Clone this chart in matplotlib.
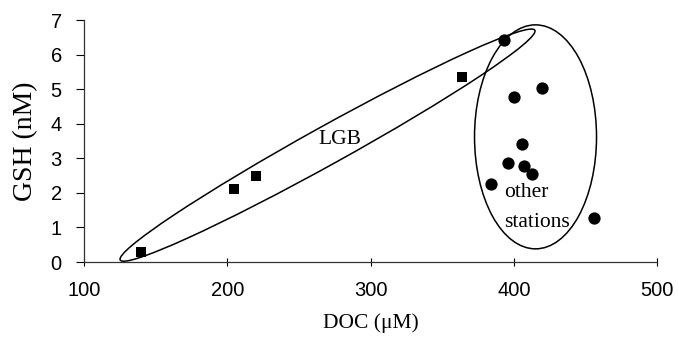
import matplotlib
matplotlib.use("Agg")
import matplotlib.pyplot as plt
from matplotlib.patches import Ellipse
from matplotlib.transforms import ScaledTranslation

# Data
lgb_doc = [140, 205, 220, 364]
lgb_gsh = [0.28, 2.10, 2.49, 5.34]
oth_doc = [393, 419.5, 400, 405.5, 396, 407, 412.5, 384, 456]
oth_gsh = [6.42, 5.03, 4.78, 3.41, 2.85, 2.79, 2.54, 2.25, 1.28]
x_ticks = [100, 200, 300, 400, 500]
y_ticks = [0, 1, 2, 3, 4, 5, 6, 7]

sans = "Liberation Sans"
serif = "Liberation Serif"

fig = plt.figure(figsize=(6.78, 3.45), dpi=100)
ax = fig.add_axes([84/678, 83/345, (657-84)/678, (262-20)/345])

ax.scatter(lgb_doc, lgb_gsh, marker="s", s=42, color="black", zorder=3, linewidths=0)
ax.scatter(oth_doc, oth_gsh, marker="o", s=78, color="black", zorder=3, linewidths=0)

ax.set_xlim(100, 500)
ax.set_ylim(0, 7)
ax.set_xticks(x_ticks)
ax.set_yticks(y_ticks)
for s in ["top", "right"]:
    ax.spines[s].set_visible(False)
for s in ["left", "bottom"]:
    ax.spines[s].set_linewidth(0.9)
    ax.spines[s].set_color("#333333")
ax.tick_params(axis="x", direction="inout", length=6, width=0.8, pad=11, labelsize=14.5)
ax.tick_params(axis="y", direction="out", length=6, width=0.8, pad=10, labelsize=14.5)
for lab in ax.get_xticklabels() + ax.get_yticklabels():
    lab.set_fontfamily(sans)

ax.set_xlabel("DOC (\u03bcM)", fontfamily=serif, fontsize=15.5, labelpad=9)
ax.set_ylabel("GSH (nM)", fontfamily=serif, fontsize=20, labelpad=9)

# ellipses drawn in pixel units around a data-space centre
def ell(cx, cy, w_px, h_px, ang):
    tr = fig.dpi_scale_trans + ScaledTranslation(cx, cy, ax.transData)
    e = Ellipse((0, 0), w_px / 100, h_px / 100, angle=ang, transform=tr,
                fill=False, edgecolor="black", linewidth=1.1, clip_on=False)
    ax.add_patch(e)

ell(270.0, 3.38, 474, 38, 29.0)
ell(415.2, 3.62, 122, 224, 0)

ax.text(278.7, 3.53, "LGB", fontfamily=serif, fontsize=15.5, ha="center", va="center")
ax.text(393.5, 1.88, "other", fontfamily=serif, fontsize=15.5, ha="left", va="baseline")
ax.text(393.5, 1.01, "stations", fontfamily=serif, fontsize=15.5, ha="left", va="baseline")

fig.savefig("out.png", dpi=100)
